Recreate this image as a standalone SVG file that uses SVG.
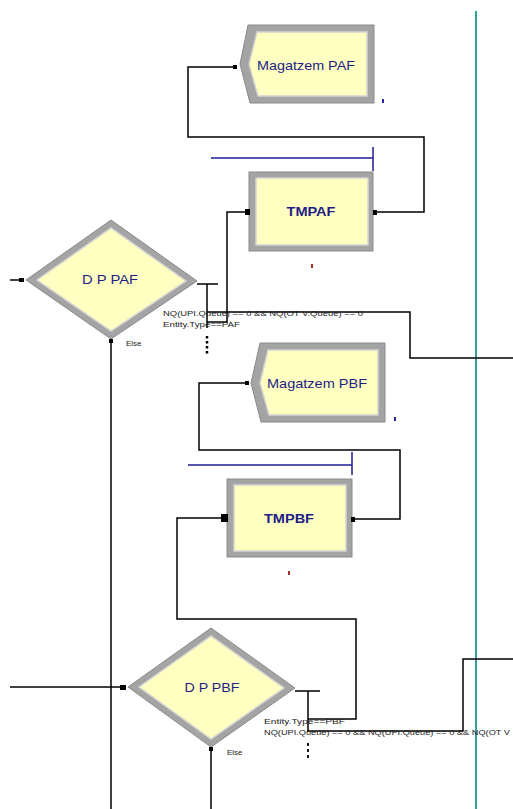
<svg xmlns="http://www.w3.org/2000/svg" width="513" height="809" viewBox="0 0 513 809">
  <style>
    .frame { fill: #a4a4a4; stroke: #8a8a8a; stroke-width: 1; }
    .face { fill: #ffffc2; stroke: #d4d4d4; stroke-width: 1.5; }
    .lbl { font-family: "Liberation Sans", Arial, sans-serif; font-size: 13.5px; fill: #1e1e86; text-anchor: middle; }
    .lblb { font-family: "Liberation Sans", Arial, sans-serif; font-size: 13px; font-weight: bold; fill: #1e1e86; text-anchor: middle; }
    .small { font-family: "Liberation Sans", Arial, sans-serif; font-size: 8px; fill: #222222; }
    .conn { fill: none; stroke: #000000; stroke-width: 1.5; }
    .queue { fill: none; stroke: #1e1e96; stroke-width: 1.5; }
    .port { fill: #000000; }
    .bm { fill: #2a2aa0; }
    .rm { fill: #a03030; }
  </style>
  <rect x="0" y="0" width="513" height="809" fill="#ffffff"/>

  <!-- teal boundary line -->
  <line x1="476" y1="11" x2="476" y2="809" stroke="#2ea39c" stroke-width="2"/>

  <g id="connectors">
    <path class="conn" d="M10,280 H22"/>
    <path class="conn" d="M111,341 V809"/>
    <path class="conn" d="M197,284 H218 M207,284 V328"/>
    <path class="conn" d="M207,312 H410 V358 H513"/>
    <path class="conn" d="M207,322 H227 V212 H247"/>
    <path class="conn" d="M375,212 H424 V137 H188 V67 H235"/>
    <path class="conn" d="M247,383 H199 V450 H400 V519 H352"/>
    <path class="conn" d="M10,687 H124"/>
    <path class="conn" d="M211,749 V809"/>
    <path class="conn" d="M295,691 H320 M308,691 V732"/>
    <path class="conn" d="M308,719 H356 V619 H177 V518 H224"/>
    <path class="conn" d="M308,731 H463 V659 H513"/>
    <path d="M207,336 V354" fill="none" stroke="#000" stroke-width="2.5" stroke-dasharray="2.5,2.5"/>
    <path d="M308,743 V761" fill="none" stroke="#000" stroke-width="1.8" stroke-dasharray="3,3"/>
  </g>

  <g id="magatzem-paf">
    <polygon class="frame" points="248,25 374,25 374,103 250,103 240,64"/>
    <polygon class="face" points="257,32 367,32 367,96 258,96 249,64"/>
    <rect class="port" x="233" y="65" width="4" height="4"/>
    <text class="lbl" x="306" y="70" textLength="98" lengthAdjust="spacingAndGlyphs">Magatzem PAF</text>
    <rect class="bm" x="382" y="99" width="2" height="4"/>
  </g>

  <g id="tmpaf">
    <path class="queue" d="M211,158 H373 M373,147 V171"/>
    <rect class="frame" x="249" y="172" width="124" height="79"/>
    <rect class="face" x="256" y="178" width="112" height="67"/>
    <rect class="port" x="245" y="209" width="5" height="6"/>
    <rect class="port" x="373" y="210" width="4" height="5"/>
    <text class="lblb" x="311" y="216" textLength="49" lengthAdjust="spacingAndGlyphs">TMPAF</text>
    <rect class="rm" x="311" y="264" width="2" height="4"/>
  </g>

  <g id="dp-paf">
    <polygon class="frame" points="26,280 111,220 197,281 111,339"/>
    <polygon class="face" points="37,280 111,228 186,281 111,331"/>
    <rect class="port" x="19" y="278" width="5" height="4"/>
    <rect class="port" x="109" y="339" width="4" height="4"/>
    <text class="lbl" x="110" y="284" textLength="56" lengthAdjust="spacingAndGlyphs">D P PAF</text>
    <text class="small" x="163" y="316" textLength="200" lengthAdjust="spacingAndGlyphs">NQ(UPI.Queue) == 0 &amp;&amp; NQ(OT V.Queue) == 0</text>
    <text class="small" x="163" y="327" textLength="77" lengthAdjust="spacingAndGlyphs">Entity.Type==PAF</text>
    <text class="small" x="126" y="346">Else</text>
  </g>

  <g id="magatzem-pbf">
    <polygon class="frame" points="260,343 385,343 385,422 261,422 251,383"/>
    <polygon class="face" points="268,350 378,350 378,415 269,415 260,383"/>
    <rect class="port" x="245" y="381" width="4" height="4"/>
    <text class="lbl" x="317" y="388" textLength="100" lengthAdjust="spacingAndGlyphs">Magatzem PBF</text>
    <rect class="bm" x="394" y="417" width="2" height="4"/>
  </g>

  <g id="tmpbf">
    <path class="queue" d="M188,465 H352 M352,452 V475"/>
    <rect class="frame" x="227" y="479" width="125" height="78"/>
    <rect class="face" x="234" y="485" width="112" height="66"/>
    <rect class="port" x="221" y="514" width="7" height="8"/>
    <rect class="port" x="351" y="517" width="4" height="5"/>
    <text class="lblb" x="289" y="523" textLength="50" lengthAdjust="spacingAndGlyphs">TMPBF</text>
    <rect class="rm" x="288" y="571" width="2" height="4"/>
  </g>

  <g id="dp-pbf">
    <polygon class="frame" points="128,687 211,628 295,688 211,747"/>
    <polygon class="face" points="139,687 211,636 284,688 211,739"/>
    <rect class="port" x="120" y="685" width="6" height="5"/>
    <rect class="port" x="209" y="747" width="4" height="4"/>
    <text class="lbl" x="212" y="692" textLength="55" lengthAdjust="spacingAndGlyphs">D P PBF</text>
    <text class="small" x="264" y="724" textLength="81" lengthAdjust="spacingAndGlyphs">Entity.Type==PBF</text>
    <text class="small" x="264" y="735" textLength="246" lengthAdjust="spacingAndGlyphs">NQ(UPI.Queue) == 0 &amp;&amp; NQ(UPI.Queue) == 0 &amp;&amp; NQ(OT V</text>
    <text class="small" x="227" y="755">Else</text>
  </g>
</svg>
